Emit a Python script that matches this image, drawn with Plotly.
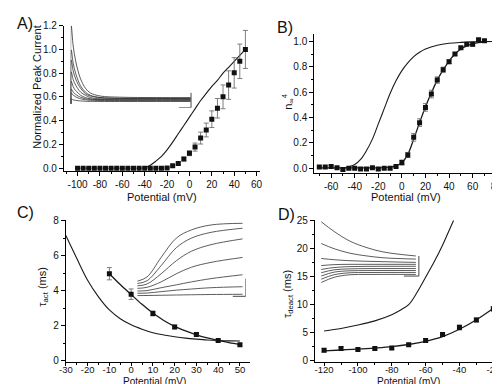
import plotly.graph_objects as go

# ---------------- DATA ----------------
# Panel A: normalized peak current vs potential
A_V = [-100, -95, -90, -85, -80, -75, -70, -65, -60, -55, -50, -45, -40, -35, -30, -25,
       -20, -15, -10, -5, 0, 5, 10, 15, 20, 25, 30, 35, 40, 45, 50]
A_I = [0.0] * 16 + [0.003, 0.02, 0.04, 0.077, 0.126, 0.178, 0.254, 0.322, 0.413, 0.505,
                    0.601, 0.70, 0.803, 0.90, 1.0]
A_ERR = [0.0] * 16 + [0.004, 0.008, 0.01, 0.015, 0.02, 0.034, 0.05, 0.058, 0.07, 0.082,
                      0.1, 0.12, 0.128, 0.145, 0.16]
A_MODEL_V = [-40, -35, -30, -25, -20, -15, -10, -5, 0, 5, 10, 15, 20, 25, 30, 35, 40, 45, 50]
A_MODEL_I = [0.0, 0.025, 0.06, 0.10, 0.155, 0.22, 0.29, 0.36, 0.43, 0.50, 0.57, 0.63,
             0.69, 0.74, 0.80, 0.85, 0.90, 0.95, 1.0]

# Panel A inset: current traces
INSET_A_T = [0, 0.2, 1, 2, 3, 4, 6, 8, 12, 20, 35, 49]
INSET_A_TRACES = [
    [0, 1.0, 0.74, 0.55, 0.42, 0.32, 0.20, 0.14, 0.10, 0.085, 0.08, 0.08],
    [0, 0.69, 0.52, 0.39, 0.30, 0.23, 0.15, 0.11, 0.08, 0.07, 0.07, 0.07],
    [0, 0.56, 0.42, 0.32, 0.25, 0.20, 0.13, 0.10, 0.08, 0.07, 0.07, 0.065],
    [0, 0.41, 0.31, 0.24, 0.19, 0.15, 0.11, 0.08, 0.065, 0.06, 0.06, 0.06],
    [0, 0.29, 0.22, 0.17, 0.14, 0.11, 0.08, 0.065, 0.055, 0.05, 0.05, 0.05],
    [0, 0.19, 0.15, 0.12, 0.10, 0.085, 0.065, 0.057, 0.052, 0.05, 0.05, 0.05],
    [0, 0.14, 0.11, 0.09, 0.075, 0.065, 0.052, 0.046, 0.042, 0.04, 0.04, 0.04],
    [0, 0.06, 0.05, 0.045, 0.04, 0.037, 0.033, 0.031, 0.03, 0.03, 0.03, 0.03],
]

# Panel B: steady-state activation
B_V = [-70, -65, -60, -55, -50, -45, -40, -35, -30, -25, -20, -15, -10, -5,
       0, 5, 10, 15, 20, 25, 30, 35, 40, 45, 50, 55, 60, 65, 70]
B_N = [0.01, 0.01, 0.015, 0.005, -0.01, 0.0, 0.0, -0.005, -0.005, 0.005, -0.005, 0.0, 0.0, 0.015,
       0.045, 0.105, 0.244, 0.36, 0.48, 0.585, 0.695, 0.777, 0.84, 0.90, 0.949, 0.977, 0.977,
       1.012, 1.005]
B_ERR = [0.008] * 14 + [0.02, 0.02, 0.03, 0.03, 0.03, 0.03, 0.025, 0.02, 0.015, 0.01, 0.01,
                        0.01, 0.015, 0.01, 0.01]
B_FIT_V = [-70, -60, -50, -40, -30, -20, -10, -5, 0, 5, 10, 15, 20, 25, 30, 35, 40, 45, 50,
           55, 60, 65, 70]
B_FIT = [0.003, 0.003, 0.003, 0.003, 0.003, 0.004, 0.01, 0.02, 0.045, 0.11, 0.23, 0.36, 0.485,
         0.595, 0.695, 0.775, 0.845, 0.90, 0.94, 0.965, 0.98, 0.99, 0.995]
B_MODEL_V = [-52, -50, -45, -40, -35, -30, -25, -20, -15, -10, -5, 0, 5, 10, 15, 20, 30, 40,
             50, 60, 70, 80]
B_MODEL = [-0.005, 0.0, 0.012, 0.03, 0.07, 0.14, 0.23, 0.35, 0.47, 0.59, 0.69, 0.77, 0.83,
           0.88, 0.915, 0.94, 0.97, 0.985, 0.992, 0.996, 0.998, 1.0]

# Panel C: activation time constant
C_V = [-10, 0, 10, 20, 30, 40, 50]
C_TAU = [4.97, 3.80, 2.70, 1.93, 1.49, 1.15, 0.91]
C_ERR = [0.35, 0.3, 0.14, 0.1, 0.06, 0.05, 0.06]
C_FIT_V = [-10, -5, 0, 5, 10, 15, 20, 25, 30, 35, 40, 45, 50]
C_FIT = [4.97, 4.35, 3.78, 3.22, 2.72, 2.3, 1.96, 1.7, 1.48, 1.3, 1.16, 1.03, 0.92]
C_MODEL_V = [-30, -25, -20, -15, -10, -5, 0, 5, 10, 15, 20, 25, 30, 35, 40, 45, 50]
C_MODEL = [7.15, 5.85, 4.6, 3.65, 2.9, 2.4, 2.05, 1.8, 1.6, 1.47, 1.37, 1.29, 1.23, 1.18,
           1.15, 1.13, 1.12]

INSET_C_T = [0, 9, 22, 36, 50, 68, 97]
INSET_C_TRACES = [
    [0.254, 0.306, 0.544, 0.78, 0.88, 0.94, 0.96],
    [0.226, 0.26, 0.444, 0.663, 0.78, 0.85, 0.90],
    [0.198, 0.22, 0.345, 0.504, 0.62, 0.70, 0.77],
    [0.167, 0.18, 0.246, 0.345, 0.425, 0.484, 0.544],
    [0.135, 0.14, 0.175, 0.21, 0.246, 0.286, 0.333],
    [0.107, 0.11, 0.127, 0.145, 0.159, 0.175, 0.187],
    [0.079, 0.08, 0.083, 0.086, 0.089, 0.092, 0.095],
]

# Panel D: deactivation time constant
D_V = [-120, -110, -100, -90, -80, -70, -60, -50, -40, -30, -20]
D_TAU = [1.86, 2.15, 1.98, 2.15, 2.27, 2.85, 3.6, 4.65, 5.93, 7.27, 9.24]
D_ERR = [0.3, 0.3, 0.2, 0.25, 0.25, 0.25, 0.3, 0.35, 0.45, 0.35, 0.4]
D_FIT_V = [-120, -110, -100, -90, -80, -70, -60, -50, -40, -30, -20]
D_FIT = [1.75, 1.9, 2.05, 2.25, 2.5, 2.88, 3.45, 4.3, 5.6, 7.3, 9.35]
D_MODEL_V = [-120, -110, -100, -90, -80, -75, -70, -65, -60, -55, -50, -45, -43.5]
D_MODEL = [5.3, 5.75, 6.35, 7.1, 8.2, 9.0, 10.0, 12.2, 14.9, 17.6, 20.6, 24.0, 25.0]

INSET_D_T = [0, 13, 29, 46, 62, 78, 95]
INSET_D_TRACES = [
    [0.979, 0.854, 0.729, 0.646, 0.592, 0.5625, 0.54],
    [0.70, 0.633, 0.575, 0.54, 0.517, 0.507, 0.50],
    [0.508, 0.492, 0.479, 0.472, 0.467, 0.462, 0.458],
    [0.417, 0.429, 0.433, 0.433, 0.433, 0.433, 0.433],
    [0.367, 0.392, 0.404, 0.407, 0.408, 0.408, 0.408],
    [0.325, 0.3625, 0.375, 0.378, 0.379, 0.379, 0.379],
    [0.283, 0.333, 0.35, 0.353, 0.354, 0.354, 0.354],
    [0.242, 0.30, 0.325, 0.328, 0.329, 0.329, 0.329],
    [0.20, 0.267, 0.30, 0.303, 0.304, 0.304, 0.304],
]

# Tick labels
A_XTICKS = [-100, -80, -60, -40, -20, 0, 20, 40, 60]
A_YTICKS = [0.0, 0.2, 0.4, 0.6, 0.8, 1.0, 1.2]
B_XTICKS = [-60, -40, -20, 0, 20, 40, 60, 80]
B_YTICKS = [0.0, 0.2, 0.4, 0.6, 0.8, 1.0]
C_XTICKS = [-30, -20, -10, 0, 10, 20, 30, 40, 50]
C_YTICKS = [0, 2, 4, 6, 8]
D_XTICKS = [-120, -100, -80, -60, -40, -20]
D_YTICKS = [0, 5, 10, 15, 20, 25]

# ---------------- FIGURE ----------------
W, H = 500, 384
FONT = "Liberation Sans, Arial, sans-serif"
LINE = "#1a1a1a"
ERRC = "#707070"
TXT = "#111"


def px_x(a, b):
    return [a / W, b / W]


def px_y(bottom, top):
    return [1 - bottom / H, 1 - top / H]


fig = go.Figure()


def add_panel(n, xv, yv, err, fitx, fity, modx, mody):
    xa = "x" if n == 1 else f"x{n}"
    ya = "y" if n == 1 else f"y{n}"
    fig.add_trace(go.Scatter(x=modx, y=mody, mode="lines", xaxis=xa, yaxis=ya,
                             line=dict(color=LINE, width=1.1, shape="spline"),
                             showlegend=False))
    if fitx is not None:
        fig.add_trace(go.Scatter(x=fitx, y=fity, mode="lines", xaxis=xa, yaxis=ya,
                                 line=dict(color=LINE, width=1.3, shape="spline"),
                                 showlegend=False))
    fig.add_trace(go.Scatter(x=xv, y=yv, mode="markers", xaxis=xa, yaxis=ya,
                             marker=dict(symbol="square", size=5, color="#111"),
                             error_y=dict(type="data", array=err, color=ERRC,
                                          thickness=0.9, width=2.5),
                             showlegend=False))


add_panel(1, A_V, A_I, A_ERR, None, None, A_MODEL_V, A_MODEL_I)
add_panel(2, B_V, B_N, B_ERR, B_FIT_V, B_FIT, B_MODEL_V, B_MODEL)
add_panel(3, C_V, C_TAU, C_ERR, C_FIT_V, C_FIT, C_MODEL_V, C_MODEL)
add_panel(4, D_V, D_TAU, D_ERR, D_FIT_V, D_FIT, D_MODEL_V, D_MODEL)

# insets
for tr in INSET_A_TRACES:
    fig.add_trace(go.Scatter(x=INSET_A_T, y=tr, mode="lines", xaxis="x5", yaxis="y5",
                             line=dict(color="#333", width=0.8, shape="spline"),
                             showlegend=False))
for tr in INSET_C_TRACES:
    fig.add_trace(go.Scatter(x=INSET_C_T, y=tr, mode="lines", xaxis="x6", yaxis="y6",
                             line=dict(color="#333", width=0.8, shape="spline"),
                             showlegend=False))
for tr in INSET_D_TRACES:
    fig.add_trace(go.Scatter(x=INSET_D_T, y=tr, mode="lines", xaxis="x7", yaxis="y7",
                             line=dict(color="#333", width=0.8, shape="spline"),
                             showlegend=False))

# scale bars (inset units)
bars = [
    ("x5", "y5", 49.2, -0.05, 5, 0.19),
    ("x6", "y6", 100, 0.07, 12, 0.216),
    ("x7", "y7", 98, 0.283, 15, 0.257),
]
for xr, yr, bx, by, bw, bh in bars:
    fig.add_shape(type="line", xref=xr, yref=yr, x0=bx, x1=bx, y0=by, y1=by + bh,
                  line=dict(color="#333", width=0.9))
    fig.add_shape(type="line", xref=xr, yref=yr, x0=bx - bw, x1=bx, y0=by, y1=by,
                  line=dict(color="#333", width=0.9))


def axis_style(dom, rng, ticks, fmt, minor_dt, size=10, standoff=0, tlen=4):
    return dict(domain=dom, range=rng, tickvals=ticks,
                ticktext=[(fmt.format(t)).replace("\u2212", "-") for t in ticks],
                showline=True, linecolor="black", linewidth=1, mirror=False,
                ticks="outside", ticklen=tlen, tickwidth=1, tickcolor="black",
                minor=dict(ticks="outside", ticklen=2, dtick=minor_dt, tickcolor="black"),
                showgrid=False, zeroline=False, ticklabelstandoff=standoff,
                tickfont=dict(family=FONT, size=size, color=TXT),
                fixedrange=True)


layout = dict(
    width=W, height=H, autosize=False,
    margin=dict(l=0, r=0, t=0, b=0),
    paper_bgcolor="white", plot_bgcolor="rgba(0,0,0,0)",
    font=dict(family=FONT),
)

layout["xaxis"] = axis_style(px_x(50, 250), [-112.2, 62.6], A_XTICKS, "{:d}", 10)
layout["yaxis"] = axis_style(px_y(162, 13), [-0.025, 1.2], A_YTICKS, "{:.1f}", 0.1)
layout["yaxis"]["anchor"] = "x"
layout["xaxis"]["anchor"] = "y"

layout["xaxis2"] = axis_style(px_x(306, 494), [-74.3, 81.6], B_XTICKS, "{:d}", 10)
layout["yaxis2"] = axis_style(px_y(164, 21), [-0.038, 1.062], B_YTICKS, "{:.1f}", 0.1)
layout["xaxis2"]["anchor"] = "y2"
layout["yaxis2"]["anchor"] = "x2"

layout["xaxis3"] = axis_style(px_x(52, 240), [-30, 54.5], C_XTICKS, "{:d}", 5,
                              size=9.5, standoff=-5, tlen=3)
layout["yaxis3"] = axis_style(px_y(357.7, 212), [-0.095, 8.04], C_YTICKS, "{:d}", 1)
layout["xaxis3"]["anchor"] = "y3"
layout["yaxis3"]["anchor"] = "x3"

layout["xaxis4"] = axis_style(px_x(306.7, 492), [-125.4, -18.3], D_XTICKS, "{:d}", 10,
                              size=9.5, standoff=-5, tlen=3)
layout["yaxis4"] = axis_style(px_y(357.7, 212), [-0.3, 25.1], D_YTICKS, "{:d}", 2.5)
layout["xaxis4"]["anchor"] = "y4"
layout["yaxis4"]["anchor"] = "x4"

insets = {
    5: (px_x(57, 182), px_y(97, 13), [0, 50], [-0.05, 1.0]),
    6: (px_x(125, 236), px_y(296, 212), [0, 100], [0, 1]),
    7: (px_x(313, 415), px_y(292, 212), [0, 100], [0, 1]),
}
for k, (dx, dy, rx, ry) in insets.items():
    layout[f"xaxis{k}"] = dict(domain=dx, range=rx, visible=False, anchor=f"y{k}",
                               fixedrange=True)
    layout[f"yaxis{k}"] = dict(domain=dy, range=ry, visible=False, anchor=f"x{k}",
                               fixedrange=True)

fig.update_layout(**layout)

# axis titles (placed as paper annotations)
titles = [
    ("Potential (mV)", 150, 188, 0, 11, "middle"),
    ("Potential (mV)", 400, 188, 0, 11, "middle"),
    ("Potential (mV)", 143, 384, 0, 10, "bottom"),
    ("Potential (mV)", 402, 384, 0, 10, "bottom"),
    ("Normalized Peak Current", 23, 75, -90, 11, "middle"),
    ("n<sub>\u221e</sub><sup>4</sup>", 279, 90, -90, 11, "middle"),
    ("\u03c4<sub>act</sub> (ms)", 29, 280, -90, 11, "middle"),
    ("\u03c4<sub>deact</sub> (ms)", 279, 288, -90, 11, "middle"),
]
for txt, tx, ty, ang, fs, ya in titles:
    fig.add_annotation(text=txt, x=tx / W, y=1 - ty / H, xref="paper", yref="paper",
                       xanchor="center", yanchor=ya, showarrow=False, textangle=ang,
                       borderpad=0, font=dict(family=FONT, size=fs, color=TXT))

labels = [("A)", 0, 0), ("B)", 266, 4), ("C)", 0, 194), ("D)", 267, 196)]
for txt, lx, ly in labels:
    fig.add_annotation(text=txt, x=lx / W, y=1 - ly / H, xref="paper", yref="paper",
                       xanchor="left", yanchor="top", showarrow=False,
                       font=dict(family=FONT, size=16, color=TXT))

fig.write_html("out.html")
